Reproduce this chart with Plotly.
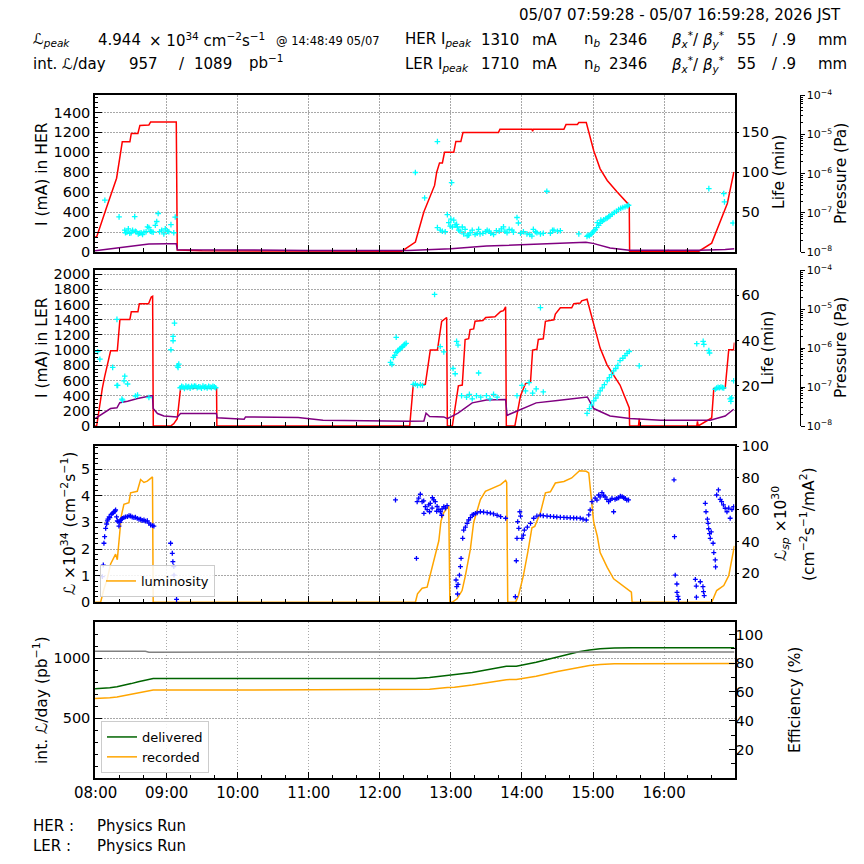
import plotly.graph_objects as go
import pandas as pd

# ---------------- data (time in hours of 2026-05-07 JST) ----------------
her_current = [(7.992,150),(8.014,150),(8.15,440),(8.295,740),(8.375,1105),(8.482,1105),(8.502,1190),(8.595,1190),
    (8.623,1270),(8.75,1275),(8.774,1305),(9.135,1305),(9.149,20),(9.5,12),(10.5,10),(11.5,8),(12.31,8),(12.50,100),
    (12.62,404),(12.77,668),(12.80,800),(12.84,894),(12.88,894),(12.91,1000),(13.04,1000),(13.07,1109),(13.14,1109),
    (13.17,1198),(13.67,1200),(13.69,1231),(14.14,1231),(14.15,1212),(14.16,1231),(14.59,1231),(14.62,1278),(14.78,1280),
    (14.80,1298),(14.905,1298),(15.01,1016),(15.10,834),(15.20,718),(15.34,603),(15.51,470),(15.515,5),(16.05,5),
    (16.06,20),(16.07,5),(16.30,5),(16.31,15),(16.32,5),(16.485,5),(16.67,89),(16.84,404),(16.89,487),(16.98,795),(16.99,800)]
her_life = [(7.992,1.6),(8.3,5.0),(8.4,6.6),(8.75,10.0),(9.0,10.3),(9.135,10.4),(9.15,2.9),(10.0,2.2),(11.0,2.0),
    (12.4,1.8),(13.0,4.1),(13.5,7.5),(14.0,9.1),(14.5,11.2),(14.9,12.1),(15.0,10.8),(15.24,5.0),(15.51,2.2),(16.0,2.1),
    (16.5,2.1),(16.86,3.0),(16.99,4.1)]
her_pressure = [(8.13,2.1e-7),(8.33,7.9e-8),(8.41,3.6e-8),(8.42,3.1e-8),(8.44,3.2e-8),(8.46,3.9e-8),(8.48,3.0e-8),
    (8.50,3.1e-8),(8.52,3.6e-8),(8.55,8.0e-8),(8.56,3.4e-8),(8.57,3.3e-8),(8.60,2.9e-8),(8.62,3.0e-8),(8.64,3.1e-8),
    (8.66,2.8e-8),(8.68,3.2e-8),(8.71,3.3e-8),(8.73,4.4e-8),(8.75,4.2e-8),(8.77,3.4e-8),(8.79,3.3e-8),(8.81,3.2e-8),
    (8.84,4.8e-8),(8.86,6.0e-8),(8.88,9.6e-8),(8.90,3.3e-8),(8.93,3.6e-8),(8.96,2.9e-8),(8.98,3.9e-8),(9.01,3.4e-8),
    (9.03,3.3e-8),(9.06,5.0e-8),(9.10,3.1e-8),(9.12,7.8e-8),
    (12.50,1.07e-6),(12.63,2.4e-7),(12.81,6.6e-6),(12.81,4.2e-8),(12.85,3.6e-8),(12.88,3.4e-8),(12.92,3.3e-8),
    (12.95,9.0e-8),(12.97,5.6e-8),(12.99,4.6e-8),(13.00,6.9e-8),(13.01,5.9e-7),(13.02,4.35e-8),(13.04,6.5e-8),
    (13.06,4.9e-8),(13.08,5.1e-8),(13.09,4.35e-8),(13.11,3.6e-8),(13.13,3.4e-8),(13.16,4.35e-8),(13.18,2.9e-8),
    (13.20,3.8e-8),(13.23,2.6e-8),(13.25,2.7e-8),(13.27,3.1e-8),(13.30,3.6e-8),(13.34,2.8e-8),(13.37,3.0e-8),
    (13.39,3.8e-8),(13.41,2.9e-8),(13.45,3.0e-8),(13.49,3.3e-8),(13.51,3.6e-8),(13.54,3.4e-8),(13.56,3.0e-8),
    (13.60,2.8e-8),(13.64,3.5e-8),(13.68,3.4e-8),(13.71,3.9e-8),(13.74,4.4e-8),(13.76,3.4e-8),(13.79,3.1e-8),
    (13.82,3.8e-8),(13.86,3.6e-8),(13.88,3.2e-8),(13.93,7.6e-8),(13.95,5.5e-8),(13.98,3.0e-8),(14.02,3.3e-8),
    (14.07,2.9e-8),(14.11,2.8e-8),(14.14,2.55e-8),(14.16,3.8e-8),(14.19,3.3e-8),(14.21,3.1e-8),(14.26,2.9e-8),
    (14.30,3.0e-8),(14.35,3.55e-7),(14.40,3.0e-8),(14.43,3.6e-8),(14.45,3.6e-8),(14.50,3.4e-8),(14.54,3.5e-8),
    (14.80,2.9e-8),(14.915,2.5e-8),(14.93,2.67e-8),(14.95,2.6e-8),(14.97,2.83e-8),(14.99,3.1e-8),(15.01,3.4e-8),
    (15.03,3.7e-8),(15.05,4.2e-8),(15.06,5.6e-8),(15.08,4.8e-8),(15.10,5.4e-8),(15.11,6.5e-8),(15.13,6.1e-8),
    (15.15,6.6e-8),(15.18,7.1e-8),(15.20,7.4e-8),(15.22,8.0e-8),(15.24,8.3e-8),(15.27,9.2e-8),(15.30,1.02e-7),
    (15.33,1.1e-7),(15.36,1.22e-7),(15.39,1.3e-7),(15.42,1.37e-7),(15.45,1.43e-7),(15.48,1.49e-7),(15.50,1.56e-7),
    (16.63,4.15e-7),(16.84,3.1e-7),(16.85,1.9e-7),(16.97,5.5e-8)]

ler_current = [(7.992,0),(8.014,0),(8.094,495),(8.127,650),(8.211,992),(8.305,992),(8.342,1404),(8.482,1404),
    (8.502,1505),(8.595,1505),(8.615,1611),(8.745,1611),(8.783,1700),(8.802,1710),(8.811,0),(9.055,0),(9.10,30),
    (9.149,97),(9.195,495),(9.702,500),(9.706,0),(12.42,0),(12.47,540),(12.64,550),(12.71,1000),(12.81,1000),
    (12.87,1380),(12.94,1430),(12.95,0),(13.02,0),(13.105,530),(13.16,540),(13.20,1140),(13.25,1150),(13.27,1270),
    (13.32,1280),(13.34,1380),(13.45,1390),(13.49,1430),(13.62,1440),(13.70,1510),(13.74,1520),(13.77,1570),(13.78,0),
    (13.90,0),(13.98,400),(14.05,560),(14.12,580),(14.15,1000),(14.21,1010),(14.23,1140),(14.30,1150),(14.33,1380),
    (14.45,1400),(14.47,1475),(14.54,1558),(14.70,1558),(14.73,1611),(14.82,1620),(14.84,1650),(14.916,1670),
    (15.008,1337),(15.10,1027),(15.197,806),(15.29,673),(15.38,540),(15.51,239),(15.515,0),(15.64,0),(15.65,97),
    (15.66,0),(16.46,0),(16.47,60),(16.48,0),(16.67,106),(16.70,495),(16.86,500),(16.91,1005),(16.98,1005),(16.99,1100)]
ler_life = [(7.992,5.6),(8.21,10.0),(8.30,10.3),(8.34,12.6),(8.45,13.2),(8.59,14.4),(8.78,15.6),(8.80,15.6),
    (8.81,10.0),(8.87,7.8),(8.96,6.7),(9.15,6.3),(9.195,7.8),(9.70,7.8),(9.71,5.9),(10.09,5.3),(10.11,6.3),(10.5,6.2),
    (10.85,6.0),(11.2,4.8),(12.0,4.4),(12.4,4.4),(12.62,4.5),(12.65,8.0),(12.70,6.5),(12.90,6.3),(12.95,5.5),
    (13.10,8.0),(13.30,12.5),(13.50,13.8),(13.77,14.0),(13.79,7.0),(13.90,8.5),(14.20,12.5),(14.50,13.6),
    (14.92,15.1),(15.01,10.0),(15.24,6.7),(15.52,5.6),(15.95,4.8),(16.65,4.8),(16.86,6.7),(16.98,9.7)]
ler_pressure = [(8.03,8.1e-7),(8.06,5.2e-7),(8.24,3.2e-7),(8.30,1.1e-7),(8.31,1.1e-7),(8.30,5.5e-6),(8.37,4.9e-8),
    (8.38,4.6e-8),(8.40,1.45e-7),(8.41,1.9e-7),(8.45,1.2e-7),(8.56,5.9e-8),(8.59,6.2e-8),(8.75,5.4e-8),
    (9.06,9.1e-7),(9.09,1.55e-6),(9.09,2.0e-6),(9.11,4.4e-6),(9.15,3.5e-7),(9.16,3.2e-7),(9.17,3.9e-7),
    (9.19,9.6e-8),(9.21,1.04e-7),(9.23,1.0e-7),(9.25,9.2e-8),(9.27,1.06e-7),(9.29,9.8e-8),(9.31,1.03e-7),
    (9.33,9.4e-8),(9.35,1.05e-7),(9.37,9.9e-8),(9.39,1.07e-7),(9.41,1.05e-7),(9.43,9.6e-8),(9.45,1.02e-7),
    (9.47,1.0e-7),(9.49,9.3e-8),(9.51,1.06e-7),(9.53,9.8e-8),(9.55,1.02e-7),(9.57,9.5e-8),(9.59,1.04e-7),
    (9.61,1.0e-7),(9.63,9.7e-8),(9.65,1.05e-7),(9.67,1.01e-7),(9.69,9.6e-8),
    (12.15,4.3e-7),(12.17,3.8e-7),(12.19,5.8e-7),(12.21,6.5e-7),(12.23,7.8e-7),(12.25,8.2e-7),(12.26,8.8e-7),
    (12.28,9.5e-7),(12.29,9.9e-7),(12.31,1.05e-6),(12.32,1.1e-6),(12.34,1.2e-6),(12.35,1.25e-6),(12.37,1.33e-6),
    (12.23,1.9e-6),(12.47,1.17e-7),(12.50,1.2e-7),(12.53,1.1e-7),(12.57,1.15e-7),(12.60,1.1e-7),(12.77,2.4e-5),
    (12.85,1.1e-6),(12.90,8.0e-7),(13.03,3.0e-7),(13.06,2.2e-7),(13.08,1.5e-6),(13.10,1.2e-6),(13.15,6.0e-8),
    (13.22,5.5e-8),(13.26,6.5e-8),(13.30,5.0e-8),(13.36,6.0e-8),(13.39,2.3e-7),(13.42,5.5e-8),(13.50,6.0e-8),
    (13.55,5.0e-8),(13.60,6.5e-8),(13.65,5.5e-8),(13.93,6.0e-8),(14.00,1.1e-7),(14.05,8.0e-8),(14.10,1.3e-7),
    (14.15,7.0e-8),(14.20,9.0e-8),(14.26,1.1e-5),(14.30,7.5e-8),
    (14.916,2.1e-8),(14.95,2.8e-8),(14.98,3.5e-8),(15.01,4.4e-8),(15.04,5.2e-8),(15.07,6.3e-8),(15.10,8.0e-8),
    (15.13,9.5e-8),(15.16,1.15e-7),(15.20,1.45e-7),(15.23,1.75e-7),(15.26,2.1e-7),(15.29,2.6e-7),(15.32,3.0e-7),
    (15.35,3.6e-7),(15.38,4.8e-7),(15.42,5.5e-7),(15.45,6.4e-7),(15.48,7.3e-7),(15.51,8.2e-7),(15.65,3.5e-7),
    (16.46,1.3e-6),(16.55,1.5e-6),(16.56,1.25e-6),(16.63,8.7e-7),(16.64,7.5e-7),(16.72,8.8e-8),(16.74,9.5e-8),
    (16.76,9.8e-8),(16.78,9.6e-8),(16.80,1.0e-7),(16.82,9.7e-8),(16.84,9.5e-8),(16.93,5.0e-8),(16.94,4.3e-8),
    (16.95,5.3e-8),(16.98,1.45e-7)]

luminosity = [(7.992,0),(8.07,0),(8.117,0.5),(8.164,0.88),(8.211,1.44),(8.257,1.65),(8.281,1.81),(8.305,1.60),
    (8.328,2.37),(8.361,3.24),(8.398,3.68),(8.468,3.74),(8.492,4.11),(8.586,4.17),(8.633,4.61),(8.68,4.50),
    (8.727,4.55),(8.774,4.67),(8.80,4.71),(8.81,0),(12.50,0),(12.53,0.32),(12.595,0.53),(12.665,0.57),(12.735,1.31),
    (12.78,1.81),(12.83,2.31),(12.86,3.05),(12.90,3.37),(12.95,3.55),(12.97,3.61),(12.985,0),(13.017,0),(13.087,0.13),
    (13.157,0.44),(13.204,1.0),(13.274,2.0),(13.32,3.0),(13.415,3.86),(13.485,4.17),(13.60,4.30),(13.70,4.42),
    (13.77,4.58),(13.785,4.50),(13.80,0),(13.91,0),(13.95,0.25),(14.02,1.0),(14.09,2.0),(14.14,2.8),(14.18,2.85),
    (14.26,3.37),(14.33,4.11),(14.40,4.15),(14.47,4.48),(14.59,4.54),(14.70,4.67),(14.81,4.94),(14.905,4.92),
    (14.94,4.86),(15.01,3.0),(15.06,2.49),(15.10,1.87),(15.20,1.31),(15.29,0.88),(15.41,0.63),(15.54,0.38),
    (15.55,0),(16.67,0),(16.74,0.44),(16.84,0.63),(16.91,1.0),(16.95,1.5),(16.99,2.12)]
specific_lum = [(8.094,17.9),(8.108,25.2),(8.117,38.9),(8.127,43.0),(8.141,48.3),(8.155,51.0),(8.165,53.0),
    (8.173,54.0),(8.19,55.5),(8.20,55.0),(8.22,57.0),(8.235,57.7),(8.25,58.0),(8.257,58.6),(8.27,59.0),(8.281,59.8),
    (8.295,55.5),(8.305,53.0),(8.314,52.5),(8.328,49.7),(8.34,52.0),(8.352,53.5),(8.365,54.0),(8.376,54.5),
    (8.398,55.0),(8.42,55.5),(8.446,55.6),(8.47,56.2),(8.492,56.0),(8.515,55.4),(8.539,55.0),(8.56,55.2),
    (8.586,54.5),(8.61,54.0),(8.633,54.0),(8.655,53.2),(8.68,53.5),(8.70,52.8),(8.727,53.0),(8.75,51.5),
    (8.774,50.4),(8.80,50.0),(8.82,49.7),(9.055,38.9),(9.079,32.6),(9.087,27.3),(9.10,24.2),(9.103,18.9),(9.139,3.6),
    (12.22,66.1),(12.515,29.4),(12.525,65.0),(12.547,67.2),(12.57,69.7),(12.595,65.0),(12.617,65.5),(12.62,57.7),
    (12.64,61.9),(12.665,60.0),(12.688,63.0),(12.70,58.7),(12.71,64.0),(12.735,61.0),(12.74,67.5),(12.758,66.1),
    (12.78,65.0),(12.80,59.0),(12.806,62.0),(12.83,60.0),(12.852,58.7),(12.87,56.5),(12.876,60.5),(12.90,61.9),
    (12.923,61.0),(12.946,62.5),
    (13.072,15.8),(13.082,11.6),(13.093,7.0),(13.10,13.0),(13.12,18.9),(13.134,24.2),(13.143,29.4),(13.166,42.0),
    (13.18,47.2),(13.204,49.0),(13.228,51.4),(13.25,53.5),(13.275,55.0),(13.30,56.7),(13.32,57.0),(13.345,57.7),
    (13.37,58.0),(13.415,58.7),(13.46,58.5),(13.51,58.1),(13.555,57.8),(13.60,57.3),(13.65,56.5),(13.70,55.6),
    (13.77,54.6),
    (13.907,5.3),(13.92,27.9),(13.93,42.0),(13.94,52.5),(13.955,48.3),(13.97,58.7),(13.98,56.0),(14.00,42.0),
    (14.02,44.0),(14.034,47.2),(14.076,49.0),(14.12,51.4),(14.165,54.6),(14.21,56.0),(14.26,56.6),(14.30,56.2),
    (14.353,56.0),(14.40,55.8),(14.446,55.6),(14.49,55.4),(14.54,55.2),(14.59,55.1),(14.634,55.0),(14.68,54.9),
    (14.727,54.8),(14.77,54.7),(14.82,54.6),(14.86,54.0),(14.905,53.5),(14.94,56.7),(14.96,59.8),(14.986,65.0),
    (15.03,67.2),(15.055,66.0),(15.08,69.2),(15.10,68.0),(15.126,70.7),(15.15,69.0),(15.17,68.0),(15.195,66.5),
    (15.22,65.0),(15.245,66.0),(15.267,67.0),(15.29,58.7),(15.31,66.5),(15.335,67.0),(15.36,67.5),(15.385,68.5),
    (15.41,68.2),(15.43,67.5),(15.454,67.0),(15.475,66.0),(15.50,66.1),
    (16.14,78.7),(16.147,43.0),(16.157,18.9),(16.18,13.3),(16.182,8.0),(16.195,5.5),(16.204,3.6),(16.44,16.2),
    (16.453,12.0),(16.455,5.0),(16.51,14.7),(16.547,11.6),(16.555,8.5),(16.565,6.0),(16.58,64.0),(16.59,58.7),
    (16.61,54.0),(16.62,51.4),(16.628,48.0),(16.64,45.0),(16.65,42.0),(16.664,46.0),(16.69,38.9),(16.70,33.0),
    (16.72,28.4),(16.725,24.0),(16.74,69.2),(16.765,72.4),(16.79,66.5),(16.81,65.0),(16.835,63.0),(16.86,60.9),
    (16.885,58.7),(16.91,61.0),(16.93,54.6),(16.955,60.0),(16.98,61.9)]

int_lum_t = [7.992, 8.1, 8.2, 8.3, 8.4, 8.5, 8.6, 8.7, 8.81, 10.0, 12.5, 12.7, 12.95, 13.05, 13.3, 13.55, 13.78,
             13.92, 14.2, 14.5, 14.8, 14.95, 15.1, 15.3, 15.55, 16.7, 16.99]
delivered = [748, 750, 755, 763, 775, 790, 806, 820, 833, 833, 833, 840, 859, 861, 883, 910, 934, 935, 968, 1012,
             1055, 1070, 1081, 1086, 1088, 1088, 1089]
recorded = [665, 667, 671, 678, 689, 701, 714, 726, 736, 736, 736, 742, 758, 760, 779, 802, 823, 824, 852, 890,
            927, 940, 949, 955, 956, 956, 957]
eff_t = [7.992, 8.7, 8.75, 12.5, 14.0, 15.0, 16.99]
efficiency = [88.3, 88.3, 87.7, 87.7, 87.6, 87.8, 87.8]

# header values
L_PEAK = "4.944"
PEAK_AT = "14:48:49 05/07"
INT_REC, INT_DEL = 957, 1089
HER_IPEAK, LER_IPEAK = 1310, 1710
NB_HER, NB_LER = 2346, 2346
BX, BY = "55", ".9"
PERIOD = "05/07 07:59:28 - 05/07 16:59:28, 2026 JST"
HER_MODE = "Physics Run"
LER_MODE = "Physics Run"

# ---------------- helpers ----------------
BASE = pd.Timestamp("2026-05-07 00:00:00")
def tt(hours):
    return [BASE + pd.Timedelta(hours=h) for h in hours]
def split(pairs):
    a, b = zip(*pairs)
    return list(a), list(b)

FONT = "DejaVu Sans"
S = 864.0
XDOM = [95 / S, 734.5 / S]
D1 = [1 - 252 / S, 1 - 95.3 / S]
D2 = [1 - 426 / S, 1 - 270.3 / S]
D3 = [1 - 602.3 / S, 1 - 446 / S]
D4 = [1 - 778.3 / S, 1 - 621.5 / S]
PRESS_POS = 799.5 / S
TICK = 14.5
TITLE = 15.5

fig = go.Figure()

def line(pairs, color, xa, ya, width=1.5):
    t, v = split(pairs)
    fig.add_trace(go.Scatter(x=tt(t), y=v, mode="lines", line=dict(color=color, width=width),
                             xaxis=xa, yaxis=ya, showlegend=False, hoverinfo="skip"))

def dots(pairs, color, xa, ya, size=4):
    t, v = split(pairs)
    fig.add_trace(go.Scatter(x=tt(t), y=v, mode="markers",
                             marker=dict(symbol="cross-thin", size=size, color=color,
                                         line=dict(width=1.3, color=color)),
                             xaxis=xa, yaxis=ya, showlegend=False, hoverinfo="skip"))

# panel 1
line(her_current, "red", "x", "y")
line(her_life, "purple", "x", "y2")
dots(her_pressure, "cyan", "x", "y3")
# panel 2
line(ler_current, "red", "x2", "y4")
line(ler_life, "purple", "x2", "y5")
dots(ler_pressure, "cyan", "x2", "y6")
# panel 3
lt, lv = split(luminosity)
fig.add_trace(go.Scatter(x=tt(lt), y=lv, mode="lines", line=dict(color="orange", width=1.5), name="luminosity",
                         xaxis="x3", yaxis="y7", legend="legend", hoverinfo="skip"))
dots(specific_lum, "blue", "x3", "y8", size=3.5)
# panel 4
fig.add_trace(go.Scatter(x=tt(int_lum_t), y=delivered, mode="lines", line=dict(color="darkgreen", width=1.5),
                         name="delivered", xaxis="x4", yaxis="y9", legend="legend2", hoverinfo="skip"))
fig.add_trace(go.Scatter(x=tt(int_lum_t), y=recorded, mode="lines", line=dict(color="orange", width=1.5),
                         name="recorded", xaxis="x4", yaxis="y9", legend="legend2", hoverinfo="skip"))
fig.add_trace(go.Scatter(x=tt(eff_t), y=efficiency, mode="lines", line=dict(color="gray", width=1.5),
                         xaxis="x4", yaxis="y10", showlegend=False, hoverinfo="skip"))

# ---------------- axes ----------------
GRID = dict(showgrid=True, gridcolor="#a8a8a8", griddash="1.5px,1.5px", gridwidth=0.9)
def xax(anchor, labels):
    return dict(type="date", domain=XDOM, anchor=anchor,
                range=["2026-05-07 07:59:28", "2026-05-07 16:59:28"],
                tick0="2026-05-07 00:00:00", dtick=3600000, tickformat="%H:%M",
                ticks="inside", ticklen=7, tickcolor="black", tickwidth=1,
                minor=dict(tick0="2026-05-07 00:00:00", dtick=1200000, ticks="inside", ticklen=4,
                           tickcolor="black", showgrid=False),
                showline=True, linecolor="black", linewidth=1.5, mirror=True, zeroline=False,
                showticklabels=labels, tickfont=dict(size=15), automargin=False, **GRID)

def yleft(domain, anchor, rng, dtick, minor_dtick, tickvals=None):
    d = dict(domain=domain, anchor=anchor, range=rng, dtick=dtick, ticks="inside", ticklen=7,
             tickcolor="black", minor=dict(dtick=minor_dtick, ticks="inside", ticklen=3.5, tickcolor="black",
                                           showgrid=False),
             showline=True, linecolor="black", linewidth=1.5, mirror=True, zeroline=False,
             tickfont=dict(size=TICK), automargin=False, **GRID)
    if tickvals is not None:
        d["tickvals"] = tickvals
    return d

def yright(over, anchor, rng, tickvals, ticks="outside", minor=None):
    d = dict(overlaying=over, anchor=anchor, side="right", range=rng, tickvals=tickvals, ticks=ticks,
             ticklen=3 if ticks == "outside" else 6, tickcolor="black", showgrid=False, zeroline=False,
             showline=False, tickfont=dict(size=TICK), automargin=False)
    if minor:
        d["minor"] = minor
    return d

P_TICKS = [1e-8, 1e-7, 1e-6, 1e-5, 1e-4]
P_TEXT = ["10<sup>−8</sup>", "10<sup>−7</sup>", "10<sup>−6</sup>", "10<sup>−5</sup>", "10<sup>−4</sup>"]
P_MINOR = [k * 10.0 ** e for e in range(-8, -4) for k in range(2, 10)]
def ypress(over):
    return dict(overlaying=over, anchor="free", position=PRESS_POS, side="right", type="log", range=[-8, -4],
                tickvals=P_TICKS, ticktext=P_TEXT, ticks="outside", ticklen=4, tickcolor="black",
                minor=dict(tickvals=P_MINOR, ticks="outside", ticklen=2, tickcolor="black", showgrid=False),
                showline=True, linecolor="black", linewidth=1.2, showgrid=False, zeroline=False,
                tickfont=dict(size=11), automargin=False)

fig.update_layout(
    xaxis=xax("y", False), xaxis2=xax("y4", False), xaxis3=xax("y7", False), xaxis4=xax("y9", True),
    yaxis=yleft(D1, "x", [0, 1572], 200, 50),
    yaxis2=yright("y", "x", [0, 196], [50, 100, 150]),
    yaxis3=ypress("y"),
    yaxis4=yleft(D2, "x2", [0, 2052], 200, 50),
    yaxis5=yright("y4", "x2", [2.3, 71], [20, 40, 60]),
    yaxis6=ypress("y4"),
    yaxis7=yleft(D3, "x3", [0, 5.87], 1, 0.2),
    yaxis8=yright("y7", "x3", [1.8, 100], [20, 40, 60, 80, 100]),
    yaxis9=yleft(D4, "x4", [0, 1308], 500, 100, tickvals=[500, 1000]),
    yaxis10=yright("y9", "x4", [0, 109], [20, 40, 60, 80, 100], ticks="inside",
                   minor=dict(dtick=10, ticks="inside", ticklen=3.5, tickcolor="black")),
    legend=dict(x=100 / S, y=1 - 597 / S, xanchor="left", yanchor="bottom", bordercolor="#cccccc",
                borderwidth=1, bgcolor="rgba(255,255,255,0.85)", font=dict(size=13)),
    legend2=dict(x=101 / S, y=1 - 773 / S, xanchor="left", yanchor="bottom", bordercolor="#cccccc",
                 borderwidth=1, bgcolor="rgba(255,255,255,0.85)", font=dict(size=13), tracegroupgap=2),
    width=864, height=864, margin=dict(l=0, r=0, t=0, b=0),
    paper_bgcolor="white", plot_bgcolor="white",
    font=dict(family=FONT, color="black", size=15),
)

# ---------------- text ----------------
def txt(s, x, y, size=15, anchor="left", angle=0):
    fig.add_annotation(text=s, x=x / S, y=1 - y / S, xref="paper", yref="paper",
                       xanchor=anchor if angle == 0 else "center", yanchor="middle", textangle=angle,
                       showarrow=False, font=dict(size=size, family=FONT, color="black"))

# axis titles
txt("I (mA) in HER", 42, 174, TITLE, angle=-90)
txt("Life (min)", 779, 172, TITLE, angle=-90)
txt("Pressure (Pa)", 841, 174, TITLE, angle=-90)
txt("I (mA) in LER", 42, 348, TITLE, angle=-90)
txt("Life (min)", 768, 348, TITLE, angle=-90)
txt("Pressure (Pa)", 841, 348, TITLE, angle=-90)
txt("ℒ ×10<sup>34</sup> (cm<sup>−2</sup>s<sup>−1</sup>)", 68, 524, TITLE, angle=-90)
txt("ℒ<sub><i>sp</i></sub> ×10<sup>30</sup>", 780, 524, TITLE, angle=-90)
txt("(cm<sup>−2</sup>s<sup>−1</sup>/mA<sup>2</sup>)", 807, 524, TITLE, angle=-90)
txt("int. ℒ/day (pb<sup>−1</sup>)", 40, 700, TITLE, angle=-90)
txt("Efficiency (%)", 795, 700, TITLE, angle=-90)

# header
txt(PERIOD, 843, 15, anchor="right")
txt("ℒ<sub><i>peak</i></sub>", 31, 40)
txt(L_PEAK, 96, 40)
txt("× 10<sup>34</sup> cm<sup>−2</sup>s<sup>−1</sup>", 147, 40)
txt("@ " + PEAK_AT, 274, 41, size=11.5)
txt("int. ℒ/day", 31, 64)
txt(str(INT_REC), 127, 64)
txt("/", 177, 64)
txt(str(INT_DEL), 192, 64)
txt("pb<sup>−1</sup>", 247, 62)
for row_y, ring, ip, nb in [(40, "HER", HER_IPEAK, NB_HER), (64, "LER", LER_IPEAK, NB_LER)]:
    txt(ring + " I<sub><i>peak</i></sub>", 403, row_y)
    txt(str(ip), 479, row_y)
    txt("mA", 530, row_y)
    txt("n<sub><i>b</i></sub>", 582, row_y)
    txt(str(nb), 607, row_y)
    txt("<i>β</i><sub><i>x</i></sub><sup>*</sup>/ <i>β</i><sub><i>y</i></sub><sup>*</sup>", 669, row_y)
    txt(BX, 735, row_y)
    txt("/ " + BY, 770, row_y)
    txt("mm", 816, row_y)

txt("HER :", 31, 826)
txt(HER_MODE, 95, 826)
txt("LER :", 31, 846)
txt(LER_MODE, 95, 846)

fig.write_html("out.html")
